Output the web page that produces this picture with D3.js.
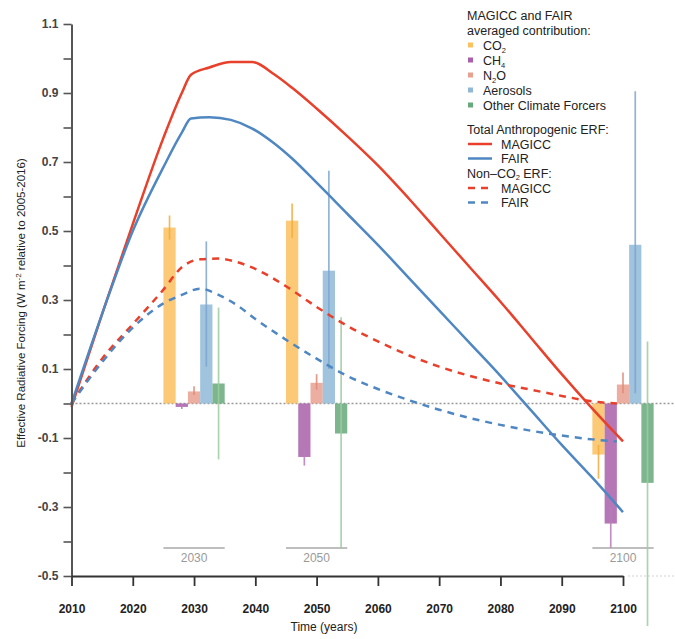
<!DOCTYPE html>
<html>
<head>
<meta charset="utf-8">
<script src="https://cdn.jsdelivr.net/npm/d3@7"></script>
<style>
  html, body { margin: 0; padding: 0; background: #fff; }
  svg { display: block; font-family: "Liberation Sans", Arial, Helvetica, sans-serif; }
</style>
</head>
<body>
<svg id="chart" width="675" height="639"></svg>
<script>
// ---------- DATA ----------
const totalYears   = [2010, 2015, 2020, 2025, 2028, 2029.5, 2032.5, 2036, 2039.5, 2043, 2046, 2050, 2055, 2060, 2065, 2070, 2075, 2080, 2085, 2090, 2095, 2100];
const magiccTotal  = [-0.01, 0.26, 0.52, 0.77, 0.90, 0.953, 0.974, 0.99, 0.99, 0.955, 0.915, 0.855, 0.775, 0.69, 0.595, 0.495, 0.395, 0.295, 0.19, 0.085, -0.015, -0.11];
const fairTotal    = [0.0, 0.26, 0.50, 0.685, 0.785, 0.826, 0.83, 0.822, 0.797, 0.755, 0.71, 0.64, 0.55, 0.46, 0.365, 0.27, 0.175, 0.08, -0.02, -0.12, -0.215, -0.315];

const nonCO2Years  = [2010, 2015, 2020, 2025, 2028, 2031, 2034, 2037, 2040, 2045, 2050, 2055, 2060, 2065, 2070, 2075, 2080, 2085, 2090, 2095, 2099];
const magiccNonCO2 = [0.0, 0.13, 0.23, 0.33, 0.395, 0.418, 0.42, 0.41, 0.39, 0.34, 0.28, 0.225, 0.18, 0.14, 0.107, 0.08, 0.058, 0.04, 0.022, 0.006, 0.0];
const fairNonCO2   = [0.0, 0.12, 0.22, 0.29, 0.315, 0.333, 0.315, 0.285, 0.245, 0.185, 0.13, 0.08, 0.042, 0.01, -0.018, -0.042, -0.062, -0.079, -0.093, -0.104, -0.11];

const groupYears   = [2030, 2050, 2100];
const forcers      = ["CO2", "CH4", "N2O", "Aerosols", "Other Climate Forcers"];
// bar values per forcer, per group year
const barCO2       = [0.51, 0.53, -0.148];
const barCH4       = [-0.01, -0.155, -0.348];
const barN2O       = [0.035, 0.06, 0.055];
const barAerosols  = [0.287, 0.385, 0.46];
const barOther     = [0.058, -0.087, -0.23];
// error ranges [low, high]
const errCO2       = [[0.475, 0.545], [0.48, 0.58], [-0.218, -0.12]];
const errCH4       = [[-0.016, -0.004], [-0.18, -0.13], [-0.418, -0.3]];
const errN2O       = [[0.025, 0.05], [0.04, 0.085], [0.03, 0.09]];
const errAerosols  = [[0.107, 0.47], [0.10, 0.675], [0.03, 0.905]];
const errOther     = [[-0.162, 0.278], [-0.42, 0.25], [-0.645, 0.18]];

const xTickValues  = [2010, 2020, 2030, 2040, 2050, 2060, 2070, 2080, 2090, 2100];
const yTickValues  = [-0.5, -0.4, -0.3, -0.2, -0.1, 0.0, 0.1, 0.2, 0.3, 0.4, 0.5, 0.6, 0.7, 0.8, 0.9, 1.0, 1.1];
const yTickLabels  = ["-0.5", "", "-0.3", "", "-0.1", "", "0.1", "", "0.3", "", "0.5", "", "0.7", "", "0.9", "", "1.1"];

// ---------- STYLE ----------
const barColors = ["#fcc15e", "#a95fa9", "#e9a08f", "#8fb8d8", "#66a97a"];
const errColors = ["#f4ac3a", "#b57cbb", "#df8a78", "#7ea7cf", "#9ccb9f"];
const redC = "#e8402a", blueC = "#4f87c2";

const svg = d3.select("#chart");
const x = d3.scaleLinear().domain([2010, 2100]).range([71.5, 623]);
const y = d3.scaleLinear().domain([-0.5, 1.1]).range([576, 24]);

// zero dotted line
svg.append("line")
  .attr("x1", x(2010)).attr("x2", 675).attr("y1", y(0)).attr("y2", y(0))
  .attr("stroke", "#9a9a9a").attr("stroke-width", 1.5).attr("stroke-dasharray", "2,2");
// faint dotted extension of bottom
svg.append("line")
  .attr("x1", x(2100) + 5).attr("x2", 675).attr("y1", y(-0.5)).attr("y2", y(-0.5))
  .attr("stroke", "#d4d4d4").attr("stroke-width", 1.2).attr("stroke-dasharray", "2,2");

// group labels
const groupG = svg.append("g");
groupYears.forEach(gy => {
  groupG.append("line")
    .attr("x1", x(gy - 5)).attr("x2", x(gy + 5)).attr("y1", 548).attr("y2", 548)
    .attr("stroke", "#a8a8a8").attr("stroke-width", 1.3);
  groupG.append("text")
    .attr("x", x(gy)).attr("y", 562).attr("text-anchor", "middle")
    .attr("font-size", 12).attr("fill", "#9a9a9a").text(gy);
});

// bars
const barVals = [barCO2, barCH4, barN2O, barAerosols, barOther];
const errVals = [errCO2, errCH4, errN2O, errAerosols, errOther];
const offsets = [-4, -2, 0, 2, 4];
const barG = svg.append("g");
groupYears.forEach((gy, gi) => {
  forcers.forEach((f, fi) => {
    const v = barVals[fi][gi];
    const cx = gy + offsets[fi];
    barG.append("rect")
      .attr("x", x(cx - 1)).attr("width", x(cx + 1) - x(cx - 1))
      .attr("y", y(Math.max(0, v))).attr("height", Math.abs(y(v) - y(0)))
      .attr("fill", barColors[fi]).attr("fill-opacity", 0.85);
    const e = errVals[fi][gi];
    barG.append("line")
      .attr("x1", x(cx)).attr("x2", x(cx)).attr("y1", y(e[0])).attr("y2", y(e[1]))
      .attr("stroke", errColors[fi]).attr("stroke-width", 1.7).attr("stroke-opacity", 0.85);
  });
});

// lines
const line = d3.line().curve(d3.curveMonotoneX).x(d => x(d[0])).y(d => y(d[1]));
const series = [
  {yrs: totalYears, vals: magiccTotal, color: redC, dash: null},
  {yrs: totalYears, vals: fairTotal, color: blueC, dash: null},
  {yrs: nonCO2Years, vals: magiccNonCO2, color: redC, dash: "7,6"},
  {yrs: nonCO2Years, vals: fairNonCO2, color: blueC, dash: "7,6"}
];
series.forEach(s => {
  svg.append("path")
    .datum(s.yrs.map((yr, i) => [yr, s.vals[i]]))
    .attr("d", line).attr("fill", "none")
    .attr("stroke", s.color).attr("stroke-width", 2.5)
    .attr("stroke-dasharray", s.dash);
});

// axes
const yAxis = d3.axisLeft(y).tickValues(yTickValues).tickSize(8).tickSizeOuter(0).tickPadding(5)
  .tickFormat((d, i) => yTickLabels[i]);
const yG = svg.append("g").attr("transform", `translate(${x(2010)},0)`).call(yAxis);
yG.select(".domain").attr("stroke", "#555").attr("stroke-width", 2);
yG.selectAll(".tick line").attr("stroke", "#555").attr("stroke-width", 1.6);
yG.selectAll(".tick text").attr("font-size", 12).attr("font-weight", "bold").attr("fill", "#444")
  .attr("font-family", "Liberation Sans, Arial, sans-serif");

const xAxis = d3.axisBottom(x).tickValues(xTickValues).tickSize(10).tickSizeOuter(0).tickPadding(18)
  .tickFormat(d3.format("d"));
const xG = svg.append("g").attr("transform", `translate(0,${y(-0.5)})`).call(xAxis);
xG.select(".domain").attr("stroke", "#333").attr("stroke-width", 2);
xG.selectAll(".tick line").attr("stroke", "#333").attr("stroke-width", 1.8);
xG.selectAll(".tick text").attr("font-size", 12).attr("font-weight", "bold").attr("fill", "#222")
  .attr("font-family", "Liberation Sans, Arial, sans-serif");

svg.append("text").attr("x", 324).attr("y", 631).attr("text-anchor", "middle")
  .attr("font-size", 12).attr("fill", "#222").text("Time (years)");

const yt = svg.append("text").attr("transform", "translate(25,303) rotate(-90)")
  .attr("text-anchor", "middle").attr("font-size", 11.5).attr("fill", "#222");
yt.append("tspan").text("Effective Radiative Forcing (W m");
yt.append("tspan").attr("font-size", 8).attr("dy", -4).text("-2");
yt.append("tspan").attr("dy", 4).text(" relative to 2005-2016)");

// legend
const lg = svg.append("g").attr("font-size", 12.5).attr("fill", "#222");
lg.append("text").attr("x", 467).attr("y", 20).text("MAGICC and FAIR");
lg.append("text").attr("x", 467).attr("y", 35).text("averaged contribution:");
const legendLabels = [["CO", "2"], ["CH", "4"], ["N", "2", "O"], ["Aerosols"], ["Other Climate Forcers"]];
const itemY = [50, 65, 80, 95, 110];
legendLabels.forEach((lab, i) => {
  lg.append("rect").attr("x", 468).attr("y", itemY[i] - 7.5).attr("width", 5).attr("height", 5)
    .attr("fill", barColors[i]);
  const t = lg.append("text").attr("x", 483).attr("y", itemY[i]);
  if (lab.length === 1) { t.text(lab[0]); }
  else {
    t.append("tspan").text(lab[0]);
    t.append("tspan").attr("font-size", 7.5).attr("dy", 2.5).text(lab[1]);
    if (lab.length === 3) t.append("tspan").attr("dy", -2.5).text(lab[2]);
  }
});
lg.append("text").attr("x", 467).attr("y", 133.5).text("Total Anthropogenic ERF:");
const lineLegend = [
  {yy: 144, color: redC, dash: null, label: "MAGICC"},
  {yy: 158.5, color: blueC, dash: null, label: "FAIR"},
  {yy: 188, color: redC, dash: "7,6", label: "MAGICC"},
  {yy: 202.5, color: blueC, dash: "7,6", label: "FAIR"}
];
lineLegend.forEach(l => {
  lg.append("line").attr("x1", 468).attr("x2", 492).attr("y1", l.yy).attr("y2", l.yy)
    .attr("stroke", l.color).attr("stroke-width", 2.5).attr("stroke-dasharray", l.dash);
  lg.append("text").attr("x", 501).attr("y", l.yy + 4.5).text(l.label);
});
const nt = lg.append("text").attr("x", 467).attr("y", 177.5);
nt.append("tspan").text("Non–CO");
nt.append("tspan").attr("font-size", 7.5).attr("dy", 2.5).text("2");
nt.append("tspan").attr("dy", -2.5).text(" ERF:");
</script>
</body>
</html>
